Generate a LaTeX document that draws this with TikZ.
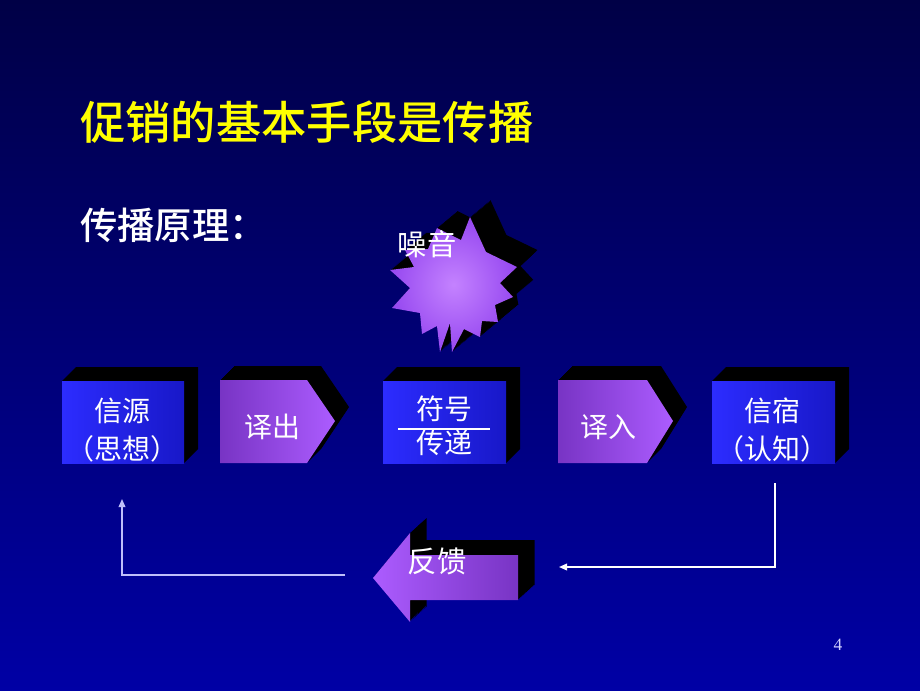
\documentclass[tikz,border=0pt]{standalone}
\usepackage{fontspec}
\setmainfont{Liberation Serif}
\newfontfamily\cjk{Noto Sans CJK SC}
\newfontfamily\cjkh{Noto Sans CJK SC}[UprightFont={* Medium}]
\usetikzlibrary{arrows.meta}
\definecolor{bgtop}{RGB}{0,0,70}
\definecolor{bgbot}{RGB}{0,0,165}
\definecolor{boxA}{RGB}{44,44,255}
\definecolor{boxB}{RGB}{24,24,200}
\definecolor{purA}{RGB}{120,52,196}
\definecolor{purB}{RGB}{172,92,255}
\definecolor{starIn}{RGB}{196,130,255}
\definecolor{starOut}{RGB}{150,72,240}
\definecolor{titleY}{RGB}{255,255,0}
\definecolor{lineL}{RGB}{190,190,250}
\definecolor{pageno}{RGB}{210,210,255}
\begin{document}
\begin{tikzpicture}[x=0.75pt,y=-0.75pt,
  boxtext/.style={text=white,font=\cjk\fontsize{21}{28.5}\selectfont,align=center,inner sep=0pt},
  boxshade/.style={left color=boxA,right color=boxB},
  arrshade/.style={left color=purA,right color=purB},
  fbline/.style={line width=1.1pt,-{Triangle[length=6pt,width=5pt]}}]
% background
\shade[top color=bgtop,bottom color=bgbot] (0,0) rectangle (920,690);
\useasboundingbox (0,0) rectangle (920,690);

% titles
\node[anchor=base west,inner sep=0pt,text=titleY,font=\cjkh\fontsize{34}{40}\selectfont] (title) at (80,139) {促销的基本手段是传播};
\node[anchor=base west,inner sep=0pt,text=white,font=\cjkh\fontsize{28}{34}\selectfont] (sub) at (80,239) {传播原理：};

% noise star
\def\starpath{(470,217)--(486,252)--(517,267)--(500,283)--(513,297)--(495,305)--(498,322)--(482,321)--(480,337)--(464,329)--(452,352)--(450,323)--(440,352)--(437,326)--(422,334)--(420,313)--(392,308)--(410,288)--(390,270)--(414,267)--(405,250)--(428,249)--(437,228)--(461,240)--cycle}
\foreach \i in {1,...,17}{\fill[black,shift={(1.2*\i,-\i)}] \starpath;}
\shade[inner color=starIn,outer color=starOut] \starpath;
\node[text=white,font=\cjk\fontsize{22}{26}\selectfont,inner sep=0pt] (noise) at (427,244) {噪音};

% source box
\fill[black] (62,381)--(76,367)--(198,367)--(198,449)--(184,463)--cycle;
\shade[boxshade] (62,381) rectangle (184,463);
\node[boxtext] (src) at (122,430) {信源\\（思想）};

% encode arrow
\def\encpath{(220,380)--(307,380)--(335,421)--(307,463)--(220,463)--cycle}
\foreach \i in {1,...,14}{\fill[black,shift={(\i,-\i)}] \encpath;}
\shade[arrshade] \encpath;
\node[boxtext] (enc) at (272,427) {译出};

% symbol box
\fill[black] (383,381)--(397,367)--(520,367)--(520,449)--(506,463)--cycle;
\shade[boxshade] (383,381) rectangle (506,463);
\node[boxtext] (sym1) at (444,409) {符号};
\node[boxtext] (sym2) at (444,443) {传递};
\draw[white,line width=0.9pt] (398,429) -- (490,429);

% decode arrow
\def\decpath{(558,380)--(647,380)--(673,421)--(647,463)--(558,463)--cycle}
\foreach \i in {1,...,14}{\fill[black,shift={(\i,-\i)}] \decpath;}
\shade[arrshade] \decpath;
\node[boxtext] (dec) at (608,427) {译入};

% sink box
\fill[black] (712,381)--(726,367)--(849,367)--(849,449)--(835,463)--cycle;
\shade[boxshade] (712,381) rectangle (835,463);
\node[boxtext] (sink) at (772,430) {信宿\\（认知）};

% feedback arrow
\def\fbpath{(373,578)--(410,533)--(410,555)--(518,555)--(518,600)--(410,600)--(410,622)--cycle}
\foreach \i in {1,...,15}{\fill[black,shift={(1.1*\i,-\i)}] \fbpath;}
\shade[left color=purB,right color=purA] \fbpath;
\node[text=white,font=\cjk\fontsize{22}{26}\selectfont,inner sep=0pt] (fb) at (437,561) {反馈};

% feedback connectors
\coordinate (sinkout) at (775,483);
\coordinate (fbin) at (559,567);
\coordinate (fbout) at (345,575);
\coordinate (srcin) at (122,499);
\draw[fbline,white] (sinkout) |- (fbin);
\draw[fbline,lineL] (fbout) -| (srcin);

% page number
\node[text=pageno,font=\fontsize{13}{15}\selectfont,inner sep=0pt] (page) at (838,645) {4};
\end{tikzpicture}
\end{document}
